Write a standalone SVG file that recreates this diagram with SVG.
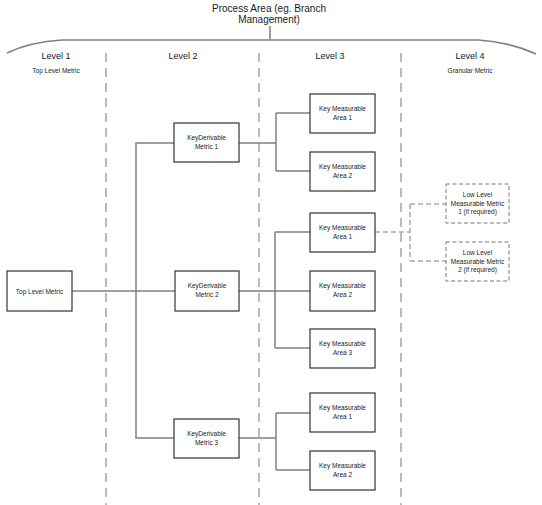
<svg xmlns="http://www.w3.org/2000/svg" width="542" height="505" viewBox="0 0 542 505">
<style>
text{font-family:"Liberation Sans",Arial,sans-serif;fill:#1a1a1a;text-anchor:middle}
.t{font-size:10px}
.lv{font-size:9px}
.sub{font-size:6.5px}
.n{font-size:6.5px}
.box{fill:#fff;stroke:#333;stroke-width:1.2}
.dbox{fill:#fff;stroke:#777;stroke-width:1;stroke-dasharray:4 2.5}
.c{fill:none;stroke:#808080;stroke-width:1.5}
.dc{fill:none;stroke:#aaa;stroke-width:1.5;stroke-dasharray:5 3}
.lane{fill:none;stroke:#777;stroke-width:1;stroke-dasharray:9 6}
</style>
<rect width="542" height="505" fill="#fff"/>
<g id="header">
<text class="t" x="269" y="12">Process Area (eg. Branch</text>
<text class="t" x="269" y="23">Management)</text>
<path class="c" d="M270,26 V40"/>
<path class="c" d="M7,53 Q30,42 62,40 L478,40 Q510,42 536,54"/>
<text class="lv" x="56" y="59">Level 1</text>
<text class="sub" x="56" y="73">Top Level Metric</text>
<text class="lv" x="183" y="59">Level 2</text>
<text class="lv" x="330" y="59">Level 3</text>
<text class="lv" x="470" y="59">Level 4</text>
<text class="sub" x="470" y="73">Granular Metric</text>
</g>
<g id="lanes">
<line class="lane" x1="106" y1="53" x2="106" y2="505"/>
<line class="lane" x1="259" y1="53" x2="259" y2="505"/>
<line class="lane" x1="401" y1="53" x2="401" y2="505"/>
</g>
<g id="connectors">
<path class="c" d="M72,291 H175"/>
<path class="c" d="M174,143 H136 V438 H174"/>
<path class="c" d="M239,143 H276 M276,113 V171 M276,113 H310 M276,171 H310"/>
<path class="c" d="M239,291 H310 M275,232 V348 M275,232 H310 M275,348 H310"/>
<path class="c" d="M239,438 H276 M276,413 V470 M276,413 H310 M276,470 H310"/>
<path class="dc" d="M375,232 H410 M410,204 V261 M410,204 H446 M410,261 H446"/>
</g>
<g id="top-level-metric">
<rect class="box" x="7" y="271" width="65" height="40"/>
<text class="n" x="39.5" y="293.5">Top Level Metric</text>
</g>
<g id="kdm1">
<rect class="box" x="174" y="123" width="65" height="39"/>
<text class="n" x="206.5" y="140">KeyDerivable</text>
<text class="n" x="206.5" y="149">Metric 1</text>
</g>
<g id="kdm2">
<rect class="box" x="175" y="271" width="64" height="40"/>
<text class="n" x="207" y="288">KeyDerivable</text>
<text class="n" x="207" y="297">Metric 2</text>
</g>
<g id="kdm3">
<rect class="box" x="174" y="419" width="65" height="39"/>
<text class="n" x="206.5" y="436">KeyDerivable</text>
<text class="n" x="206.5" y="445">Metric 3</text>
</g>
<g id="kma1-1">
<rect class="box" x="310" y="94" width="65" height="39"/>
<text class="n" x="342.5" y="110.5">Key Measurable</text>
<text class="n" x="342.5" y="119.5">Area 1</text>
</g>
<g id="kma1-2">
<rect class="box" x="310" y="152" width="65" height="39"/>
<text class="n" x="342.5" y="168.5">Key Measurable</text>
<text class="n" x="342.5" y="177.5">Area 2</text>
</g>
<g id="kma2-1">
<rect class="box" x="310" y="213" width="65" height="39"/>
<text class="n" x="342.5" y="229.5">Key Measurable</text>
<text class="n" x="342.5" y="238.5">Area 1</text>
</g>
<g id="kma2-2">
<rect class="box" x="310" y="271" width="65" height="40"/>
<text class="n" x="342.5" y="288">Key Measurable</text>
<text class="n" x="342.5" y="297">Area 2</text>
</g>
<g id="kma2-3">
<rect class="box" x="310" y="329" width="65" height="39"/>
<text class="n" x="342.5" y="345.5">Key Measurable</text>
<text class="n" x="342.5" y="354.5">Area 3</text>
</g>
<g id="kma3-1">
<rect class="box" x="310" y="393" width="65" height="39"/>
<text class="n" x="342.5" y="409.5">Key Measurable</text>
<text class="n" x="342.5" y="418.5">Area 1</text>
</g>
<g id="kma3-2">
<rect class="box" x="310" y="451" width="65" height="39"/>
<text class="n" x="342.5" y="467.5">Key Measurable</text>
<text class="n" x="342.5" y="476.5">Area 2</text>
</g>
<g id="llm1">
<rect class="dbox" x="446" y="184" width="63" height="39"/>
<text class="n" x="477.5" y="197">Low Level</text>
<text class="n" x="477.5" y="205.5">Measurable Metric</text>
<text class="n" x="477.5" y="214">1 (if required)</text>
</g>
<g id="llm2">
<rect class="dbox" x="446" y="242" width="63" height="39"/>
<text class="n" x="477.5" y="255">Low Level</text>
<text class="n" x="477.5" y="263.5">Measurable Metric</text>
<text class="n" x="477.5" y="272">2 (if required)</text>
</g>
</svg>
